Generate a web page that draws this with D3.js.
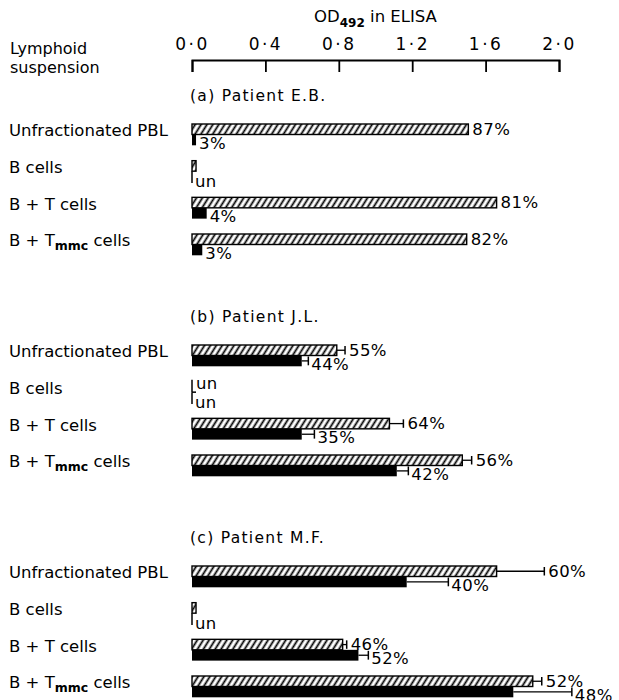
<!DOCTYPE html>
<html><head><meta charset="utf-8">
<script src="https://cdn.jsdelivr.net/npm/d3@7/dist/d3.min.js"></script>
<style>body{margin:0;background:#fff}text{font-family:"DejaVu Sans",sans-serif;fill:#000}</style>
</head><body><svg id="c" width="619" height="700"></svg>
<script>
const categories = ["Unfractionated PBL", "B cells", "B + T cells", "B + T|mmc| cells"];
const panels = ["(a) Patient E.B.", "(b) Patient J.L.", "(c) Patient M.F."];
const tickValues = [0, 0.4, 0.8, 1.2, 1.6, 2.0];
// hatched bars (null = undetectable)
const hatchedA = [1.506, 0.022, 1.66, 1.497];
const hatchedB = [0.789, null, 1.076, 1.473];
const hatchedC = [1.66, 0.022, 0.821, 1.857];
const hatchedErrA = [null, null, null, null];
const hatchedErrB = [0.834, null, 1.152, 1.524];
const hatchedErrC = [1.92, null, 0.843, 1.906];
const hatchedPctA = ["87%", "", "81%", "82%"];
const hatchedPctB = ["55%", "un", "64%", "56%"];
const hatchedPctC = ["60%", "", "46%", "52%"];
// solid bars
const solidA = [0.022, null, 0.08, 0.056];
const solidB = [0.598, null, 0.598, 1.116];
const solidC = [1.17, null, 0.907, 1.751];
const solidErrA = [null, null, null, null];
const solidErrB = [0.634, null, 0.667, 1.179];
const solidErrC = [1.397, null, 0.961, 2.07];
const solidPctA = ["3%", "un", "4%", "3%"];
const solidPctB = ["44%", "un", "35%", "42%"];
const solidPctC = ["40%", "un", "52%", "48%"];

const hatched = [hatchedA, hatchedB, hatchedC];
const hatchedErr = [hatchedErrA, hatchedErrB, hatchedErrC];
const hatchedPct = [hatchedPctA, hatchedPctB, hatchedPctC];
const solid = [solidA, solidB, solidC];
const solidErr = [solidErrA, solidErrB, solidErrC];
const solidPct = [solidPctA, solidPctB, solidPctC];

const svg = d3.select("#c");
const x = d3.scaleLinear().domain([0, 2]).range([192, 559]);
const panelY = d3.scaleLinear().domain([0, 2]).range([124, 566]);
const rowY = d3.scaleLinear().domain([0, 3]).range([0, 110]);
const hH = 10.5, sH = 10.8;

const defs = svg.append("defs");
defs.append("pattern").attr("id", "hatch").attr("patternUnits", "userSpaceOnUse")
  .attr("width", 5).attr("height", 5).attr("patternTransform", "rotate(32)")
  .append("line").attr("x1", 1.5).attr("y1", -1).attr("x2", 1.5).attr("y2", 6)
  .attr("stroke", "#000").attr("stroke-width", 1.8);

// axis title
const t = svg.append("text").attr("x", x(1.0)).attr("y", 22).attr("text-anchor", "middle").attr("font-size", 16.5);
t.append("tspan").text("OD");
t.append("tspan").attr("font-size", 12).attr("font-weight", "bold").attr("dy", 5).text("492");
t.append("tspan").attr("dy", -5).text(" in ELISA");

svg.append("text").attr("x", 10).attr("y", 54).attr("font-size", 16).text("Lymphoid");
svg.append("text").attr("x", 10).attr("y", 73).attr("font-size", 16).text("suspension");

const axis = d3.axisTop(x).tickValues(tickValues).tickSize(-12).tickSizeOuter(-12).tickPadding(10)
  .tickFormat(d => d3.format(".1f")(d).replace(".", "·"));
const ag = svg.append("g").attr("transform", "translate(0,60)").call(axis);
ag.select(".domain").attr("stroke-width", 2);
ag.selectAll(".tick line").attr("stroke-width", 1.8);
ag.selectAll(".tick text").attr("font-size", 17).attr("font-family", "DejaVu Sans").attr("letter-spacing", 2.5).attr("fill", "#000");

panels.forEach((p, pi) => {
  const y0 = panelY(pi);
  svg.append("text").attr("x", 190).attr("y", y0 - 23).attr("font-size", 15.5).attr("letter-spacing", 1.3).text(p);
  categories.forEach((c, ri) => {
    const top = y0 + rowY(ri);
    // category label
    const parts = c.split("|");
    const lt = svg.append("text").attr("x", 9).attr("y", top + hH / 2 + 1).attr("dominant-baseline", "central").attr("font-size", 16.5);
    lt.append("tspan").text(parts[0]);
    if (parts.length > 1) {
      lt.append("tspan").attr("font-size", 12.5).attr("font-weight", "bold").attr("dy", 5).text(parts[1]);
      lt.append("tspan").attr("dy", -5).text(parts[2]);
    }
    // hatched bar
    const hv = hatched[pi][ri];
    let hEnd;
    if (hv == null) {
      svg.append("line").attr("x1", x(0)).attr("x2", x(0)).attr("y1", top - 2).attr("y2", top + hH)
        .attr("stroke", "#000").attr("stroke-width", 1.5);
      svg.append("line").attr("x1", x(0)).attr("x2", x(0) + 4).attr("y1", top + hH).attr("y2", top + hH)
        .attr("stroke", "#000").attr("stroke-width", 1.5);
      hEnd = x(0);
    } else {
      svg.append("rect").attr("x", x(0)).attr("y", top).attr("width", x(hv) - x(0)).attr("height", hH)
        .attr("fill", "url(#hatch)").attr("stroke", "#000").attr("stroke-width", 1.4);
      hEnd = x(hv);
      const he = hatchedErr[pi][ri];
      if (he != null) {
        svg.append("line").attr("x1", x(hv)).attr("x2", x(he)).attr("y1", top + hH / 2).attr("y2", top + hH / 2)
          .attr("stroke", "#000").attr("stroke-width", 1.3);
        svg.append("line").attr("x1", x(he)).attr("x2", x(he)).attr("y1", top + 1).attr("y2", top + hH - 1)
          .attr("stroke", "#000").attr("stroke-width", 1.5);
        hEnd = x(he);
      }
    }
    const hp = hatchedPct[pi][ri];
    if (hp) svg.append("text").attr("x", hEnd + 4).attr("y", top + hH / 2 + (hv == null ? -3 : 0))
      .attr("dominant-baseline", "central").attr("font-size", 16.5).attr("letter-spacing", 0.4).text(hp);
    // solid bar
    const st = top + hH;
    const sv = solid[pi][ri];
    let sEnd;
    if (sv == null) {
      svg.append("line").attr("x1", x(0)).attr("x2", x(0)).attr("y1", st).attr("y2", st + sH + 1)
        .attr("stroke", "#000").attr("stroke-width", 1.5);
      sEnd = x(0);
    } else {
      svg.append("rect").attr("x", x(0)).attr("y", st).attr("width", x(sv) - x(0)).attr("height", sH)
        .attr("fill", "#000");
      sEnd = x(sv);
      const se = solidErr[pi][ri];
      if (se != null) {
        svg.append("line").attr("x1", x(sv)).attr("x2", x(se)).attr("y1", st + sH / 2).attr("y2", st + sH / 2)
          .attr("stroke", "#000").attr("stroke-width", 1.3);
        svg.append("line").attr("x1", x(se)).attr("x2", x(se)).attr("y1", st + 1).attr("y2", st + sH - 1)
          .attr("stroke", "#000").attr("stroke-width", 1.5);
        sEnd = x(se);
      }
    }
    const sp = solidPct[pi][ri];
    if (sp) svg.append("text").attr("x", sEnd + 3).attr("y", st + sH / 2 + (sv == null ? 4.5 : 3.5))
      .attr("dominant-baseline", "central").attr("font-size", 16.5).attr("letter-spacing", 0.4).text(sp);
  });
});
</script></body></html>
